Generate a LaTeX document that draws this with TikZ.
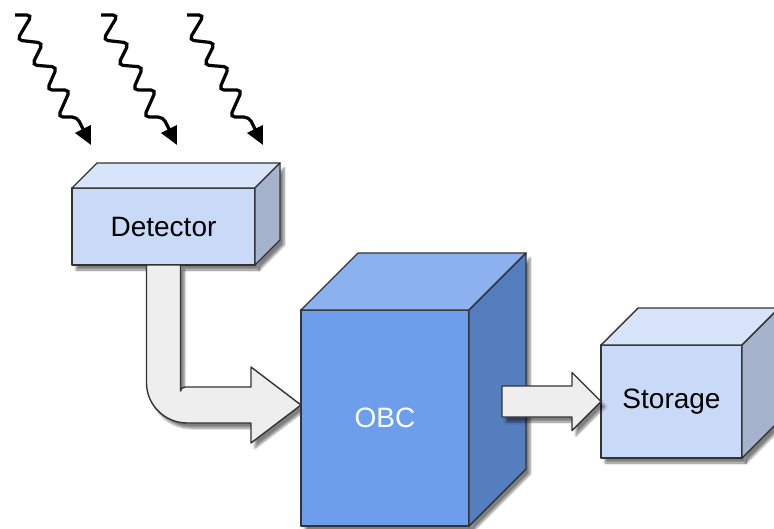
\documentclass[tikz,border=0pt]{standalone}
\usepackage{fontspec}
\setmainfont{Liberation Sans}
\usetikzlibrary{arrows.meta,shadows.blur}

\definecolor{lightfront}{HTML}{C9DAF8}
\definecolor{lighttop}{HTML}{D8E4F9}
\definecolor{lightside}{HTML}{A6B3CD}
\definecolor{obcfront}{HTML}{6D9EEB}
\definecolor{obctop}{HTML}{8BB1EE}
\definecolor{obcside}{HTML}{557EBF}
\definecolor{arrowgray}{HTML}{EEEEEE}

\tikzset{
  face/.style={draw=black!80, line width=1.4pt, line join=round},
  softshadow/.style={blur shadow={shadow xshift=4pt, shadow yshift=-5pt,
    shadow blur steps=8, shadow opacity=50}},
  front/.style={face, fill=#1, inner sep=0pt, outer sep=0pt, softshadow,
    font=\fontsize{28}{33}\selectfont},
  bigarrow/.style={face, fill=arrowgray, softshadow},
  wave/.style={line width=3.2pt, rounded corners=5pt,
    -{Triangle[length=18pt,width=17pt]}}
}

\begin{document}
\begin{tikzpicture}[x=1pt,y=-1pt]
  \useasboundingbox (0,0) rectangle (774,528);

  % incoming radiation
  \foreach \dx in {0,86,172} {
    \draw[wave, xshift=\dx pt] (15,15) -- (32,15) -- (17,40) -- (43,43)
      -- (32,65) -- (57,67) -- (47,90) -- (70,90) -- (58,117) -- (77,117)
      -- (91,145);
  }

  % detector
  \node[front=lightfront, minimum width=183pt, minimum height=77pt]
    (det) at (163.5,226.5) {Detector};
  \draw[face, fill=lighttop] (det.north west) -- ++(25,-25) -- ++(183,0)
    -- (det.north east) -- cycle;
  \draw[face, fill=lightside, softshadow] (det.north east) -- ++(25,-25)
    -- ++(0,77) -- (det.south east) -- cycle;

  % detector -> OBC
  \coordinate (in1) at (301,405);
  \draw[bigarrow] ([xshift=-17pt]det.south) -- (146.5,383)
    .. controls (146.5,405) and (165,423) .. (187,423) -- (251,423)
    -- (251,443) -- (in1) -- (251,367) -- (251,387) -- (185,387)
    .. controls (182.5,387) and (180.5,389) .. (180.5,391)
    -- ([xshift=17pt]det.south) -- cycle;

  % on-board computer
  \node[front=obcfront, text=white, minimum width=168pt, minimum height=216pt]
    (obc) at (385,418) {OBC};
  \draw[face, fill=obctop] (obc.north west) -- ++(57,-57) -- ++(168,0)
    -- (obc.north east) -- cycle;
  \draw[face, fill=obcside, softshadow] (obc.north east) -- ++(57,-57)
    -- ++(0,216) -- (obc.south east) -- cycle;

  % storage
  \node[front=lightfront, minimum width=141pt, minimum height=113pt]
    (sto) at (671.5,401.5) {Storage};
  \draw[face, fill=lighttop] (sto.north west) -- ++(37,-37) -- ++(141,0)
    -- (sto.north east) -- cycle;
  \draw[face, fill=lightside, softshadow] (sto.north east) -- ++(37,-37)
    -- ++(0,113) -- (sto.south east) -- cycle;

  % OBC -> storage
  \draw[bigarrow] (sto.west) -- ++(-29,-29) -- ++(0,13.5) -- ++(-70,0)
    -- ++(0,31) -- ++(70,0) -- ++(0,13.5) -- cycle;
\end{tikzpicture}
\end{document}
